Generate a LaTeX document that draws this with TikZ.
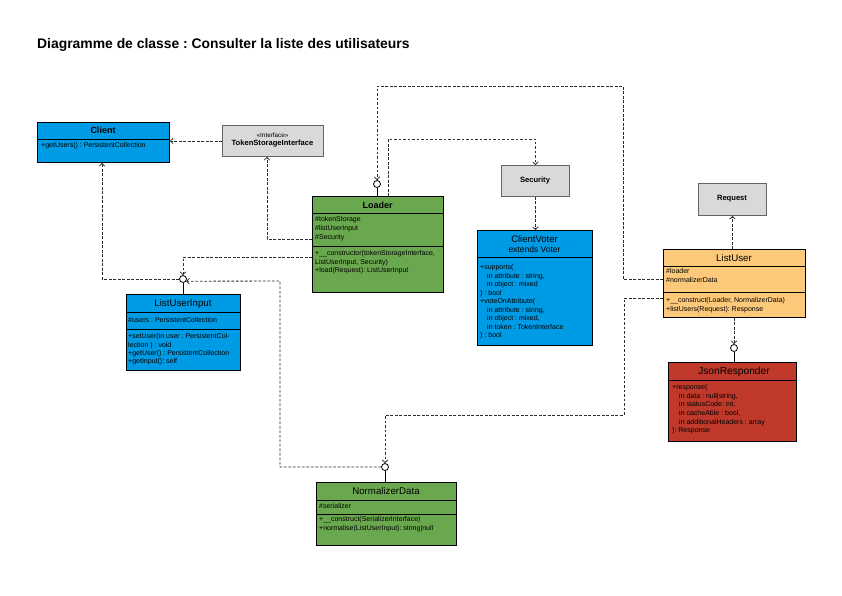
\documentclass[tikz,border=0pt]{standalone}
\usepackage{fontspec}
\setmainfont{Liberation Sans}
\usetikzlibrary{arrows.meta}
\frenchspacing
\definecolor{cblue}{RGB}{0,155,229}
\definecolor{cgreen}{RGB}{106,168,79}
\definecolor{corange}{RGB}{252,200,121}
\definecolor{cred}{RGB}{192,57,43}
\definecolor{cgray}{RGB}{217,217,217}
\definecolor{cgrayline}{RGB}{100,100,100}
\definecolor{cdash}{RGB}{45,45,45}
\tikzset{
  classbox/.style={draw=black, line width=0.9pt, inner sep=0pt, anchor=north west},
  graybox/.style={draw=cgrayline, fill=cgray, line width=0.9pt, inner sep=0pt, anchor=north west},
  divline/.style={draw=black, line width=0.8pt},
  memb/.style={anchor=north west, inner sep=0pt, align=left, font=\fontsize{7}{8.6}\selectfont},
  hdr/.style={inner sep=0pt, font=\fontsize{9.7}{11}\selectfont},
  hdrb/.style={inner sep=0pt, font=\fontsize{9}{11}\selectfont\bfseries},
  smallb/.style={inner sep=0pt, font=\fontsize{7.6}{9}\selectfont\bfseries},
  dep/.style={draw=cdash, line width=0.85pt, dash pattern=on 2.8pt off 1.7pt,
    -{Straight Barb[length=2.6pt,width=5.5pt,line width=0.8pt]}},
  socket/.style={circle, draw=black, fill=white, line width=0.8pt, minimum size=7pt, inner sep=0pt},
  solidlink/.style={draw=black, line width=0.9pt}
}
\begin{document}
\begin{tikzpicture}[x=1pt,y=-1pt]
\useasboundingbox[fill=white] (0,0) rectangle (842,595);

% title
\node[anchor=west, inner sep=0pt, font=\fontsize{13.9}{16}\selectfont\bfseries] (title) at (37,45) {Diagramme de classe : Consulter la liste des utilisateurs};

% Client
\node[classbox, fill=cblue, minimum width=132pt, minimum height=40pt] (client) at (37,122) {};
\draw[divline] (37,139) -- (169,139);
\node[hdrb] (clientT) at (103,130.5) {Client};
\node[memb] (clientM) at (41,142.5) {+getUsers() : PersistentCollection};

% TokenStorageInterface
\node[graybox, minimum width=101pt, minimum height=31pt] (tsi) at (222,125) {};
\node[inner sep=0pt, font=\fontsize{6.3}{7}\selectfont] (tsiS) at (272.5,135.5) {«Interface»};
\node[smallb] (tsiT) at (272.5,144) {TokenStorageInterface};

% Loader
\node[classbox, fill=cgreen, minimum width=131pt, minimum height=96pt] (loader) at (312,196) {};
\draw[divline] (312,213) -- (443,213);
\draw[divline] (312,246) -- (443,246);
\node[hdrb] (loaderT) at (377.5,205) {Loader};
\node[memb, font=\fontsize{7}{9}\selectfont] (loaderA) at (315,216.5) {\#tokenStorage\\\#listUserInput\\\#Security};
\node[memb] (loaderM) at (315,250.5) {+\_\_constructor(tokenStorageInterface,\\ListUserInput, Security)\\+load(Request): ListUserInput};

% Security
\node[graybox, minimum width=68pt, minimum height=31pt] (security) at (501,165) {};
\node[smallb] (securityT) at (535,181) {Security};

% ClientVoter
\node[classbox, fill=cblue, minimum width=115pt, minimum height=115pt] (voter) at (477,230) {};
\draw[divline] (477,257) -- (592,257);
\node[hdr, font=\fontsize{9.5}{11}\selectfont] (voterT) at (534.5,239) {ClientVoter};
\node[hdr, font=\fontsize{8.5}{10}\selectfont] (voterE) at (534.5,249.5) {extends Voter};
\node[memb, font=\fontsize{7}{8.5}\selectfont] (voterM) at (480,264.5) {+supports(\\\hspace*{7pt}in attribute : string,\\\hspace*{7pt}in object : mixed\\) : bool\\+voteOnAttribute(\\\hspace*{7pt}in attribute : string,\\\hspace*{7pt}in object : mixed,\\\hspace*{7pt}in token : TokenInterface\\) : bool};

% Request
\node[graybox, minimum width=68pt, minimum height=32pt] (request) at (698,183) {};
\node[smallb] (requestT) at (732,198.5) {Request};

% ListUser
\node[classbox, fill=corange, minimum width=142pt, minimum height=68pt] (listuser) at (663,249) {};
\draw[divline] (663,266) -- (805,266);
\draw[divline] (663,292) -- (805,292);
\node[hdr] (listuserT) at (734,258) {ListUser};
\node[memb, font=\fontsize{7}{9}\selectfont] (listuserA) at (666,268.5) {\#loader\\\#normalizerData};
\node[memb, font=\fontsize{7}{8.3}\selectfont] (listuserM) at (666,297.5) {+\_\_construct(Loader, NormalizerData)\\+listUsers(Request): Response};

% ListUserInput
\node[classbox, fill=cblue, minimum width=114pt, minimum height=76pt] (lui) at (126,294) {};
\draw[divline] (126,312) -- (240,312);
\draw[divline] (126,329) -- (240,329);
\node[hdr] (luiT) at (183,303.5) {ListUserInput};
\node[memb] (luiA) at (128,317.5) {\#users : PersistentCollection};
\node[memb, font=\fontsize{7}{8.4}\selectfont] (luiM) at (128,333.5) {+setUser(in user : PersistentCol-\\lection ) : void\\+getUser() : PersistentCollection\\+getInput(): self};

% JsonResponder
\node[classbox, fill=cred, minimum width=128pt, minimum height=79pt] (json) at (668,362) {};
\draw[divline] (668,380) -- (796,380);
\node[hdr, font=\fontsize{10.2}{12}\selectfont] (jsonT) at (734,371.5) {JsonResponder};
\node[memb] (jsonM) at (672,384.5) {+response(\\\hspace*{7pt}in data : null|string,\\\hspace*{7pt}in statusCode: int,\\\hspace*{7pt}in cacheAble : bool,\\\hspace*{7pt}in additionalHeaders : array\\): Response};

% NormalizerData
\node[classbox, fill=cgreen, minimum width=140pt, minimum height=63pt] (nd) at (316,482) {};
\draw[divline] (316,500) -- (456,500);
\draw[divline] (316,514) -- (456,514);
\node[hdr] (ndT) at (386,491) {NormalizerData};
\node[memb] (ndA) at (319,503.5) {\#serializer};
\node[memb] (ndM) at (319,516.5) {+\_\_construct(SerializerInterface)\\+normalise(ListUserInput): string|null};

% sockets
\node[socket] (c1) at (377,184) {};
\node[socket] (c2) at (183,279) {};
\node[socket] (c3) at (385,467) {};
\node[socket] (c4) at (734,348) {};
\draw[solidlink] (c1.south) -- (c1.south |- loader.north);
\draw[solidlink] (c2.south) -- (c2.south |- lui.north);
\draw[solidlink] (c3.south) -- (c3.south |- nd.north);
\draw[solidlink] (c4.south) -- (c4.south |- json.north);

% dependencies
\draw[dep] (tsi.west) -- (tsi.west -| client.east);
\draw[dep] (loader.west |- 0,239) -| (tsi.south -| 267,0);
\draw[dep] (loader.west |- 0,257) -| (c2.north);
\draw[dep] (c2.west) -| (client.south -| 102,0);
\draw[dep] (c3.west) -| (280,281) -- (c2.-35);
\draw[dep] (listuser.west |- 0,298) -| (624,415) -| (c3.north);
\draw[dep] (listuser.west |- 0,279) -| (623,86) -| (c1.north);
\draw[dep] (loader.north -| 388,0) -- (388,139) -| (security.north);
\draw[dep] (security.south) -- (security.south |- voter.north);
\draw[dep] (request.south |- listuser.north) -- (request.south);
\draw[dep] (listuser.south -| c4.north) -- (c4.north);
\end{tikzpicture}
\end{document}
